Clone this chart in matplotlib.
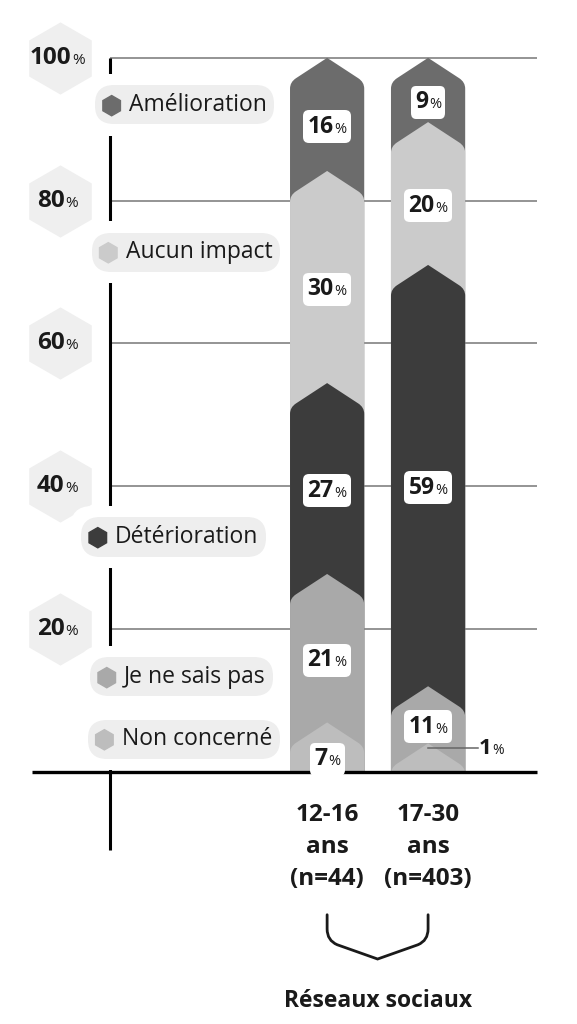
import numpy as np
import matplotlib.pyplot as plt
from matplotlib import font_manager as fm
from matplotlib.path import Path
from matplotlib.patches import PathPatch, RegularPolygon
from matplotlib.offsetbox import AnnotationBbox, HPacker, TextArea, DrawingArea

# pick a humanist sans that really has a bold face installed
def has_bold(fam):
    return any(f.name == fam and f.weight in (600, 700, 'bold', 'semibold') for f in fm.fontManager.ttflist)

family = next((f for f in ['Open Sans', 'Noto Sans', 'Lato', 'Roboto'] if has_bold(f)), 'DejaVu Sans')
plt.rcParams['font.family'] = [family, 'DejaVu Sans']

# data
groups = ['12-16\nans\n(n=44)', '17-30\nans\n(n=403)']
categories = ['Non concerné', 'Je ne sais pas', 'Détérioration', 'Aucun impact', 'Amélioration']
values = {
    'Non concerné':   [7, 1],
    'Je ne sais pas': [21, 11],
    'Détérioration':  [27, 59],
    'Aucun impact':   [30, 20],
    'Amélioration':   [16, 9],
}
colors = {
    'Non concerné':   '#bdbdbd',
    'Je ne sais pas': '#a9a9a9',
    'Détérioration':  '#3c3c3c',
    'Aucun impact':   '#cbcbcb',
    'Amélioration':   '#6c6c6c',
}
yticks = [20, 40, 60, 80, 100]
group_title = 'Réseaux sociaux'

# legend pill placement (layout, in axis units)
legend_xy = {'Amélioration': (-1.41, 93.4), 'Aucun impact': (-1.40, 72.8),
             'Détérioration': (-1.52, 32.9), 'Je ne sais pas': (-1.44, 13.3),
             'Non concerné': (-1.42, 4.6)}

fig = plt.figure(figsize=(5.77, 10.24), dpi=100)
ax = fig.add_axes([0, 0, 1, 1])
ax.set_xlim(-3.24, 2.475)
ax.set_ylim(-35.3, 108.1)
ax.axis('off')

x_axis = -2.15
x_right = 2.08
bar_w = 0.735
chev = 3.4
ink = '#1a1a1a'

# gridlines, axis, baseline
ax.hlines(yticks, x_axis, x_right, color='#777777', lw=1.1, zorder=1)
ax.vlines(x_axis, -10.9, 100, color='black', lw=2.2, zorder=1)
ax.hlines(0, -2.92, x_right, color='black', lw=2.4, zorder=6)


def pct_packer(num, size, psize):
    return HPacker(children=[TextArea(num, textprops=dict(size=size, weight='bold', color=ink)),
                             TextArea('%', textprops=dict(size=psize, color=ink))],
                   align='baseline', pad=0, sep=0.5)


# tick hexagons + labels
for t in yticks:
    ax.plot(-2.645, t, marker='h', ms=52, color='#efefef', mec='none', ls='none', zorder=2)
    ax.add_artist(AnnotationBbox(pct_packer(f'{t}', 17.5, 11), (-2.67, t), frameon=False, zorder=3))


def legend_box(cat):
    da = DrawingArea(13, 14, 0, 0)
    da.add_artist(RegularPolygon((6.5, 6.5), 6, radius=7.3, color=colors[cat]))
    return HPacker(children=[da, TextArea(cat, textprops=dict(size=16.5, color=ink))],
                   align='center', pad=3.5, sep=6)


# legend pills: white halo first (cuts the axis line), then the grey pill
for cat in categories:
    halo = AnnotationBbox(legend_box(cat), legend_xy[cat], frameon=True, fontsize=16, zorder=3.5,
                          pad=0, bboxprops=dict(boxstyle='round,pad=0.62,rounding_size=1.0',
                                                fc='white', ec='none'))
    halo.offsetbox.set_visible(False)
    ax.add_artist(halo)
    ax.add_artist(AnnotationBbox(legend_box(cat), legend_xy[cat], frameon=True, fontsize=16,
                                 zorder=4, pad=0,
                                 bboxprops=dict(boxstyle='round,pad=0.12,rounding_size=0.85',
                                                fc='#eeeeee', ec='none')))


def seg_path(xc, top):
    xl, xr = xc - bar_w / 2, xc + bar_w / 2
    sh = max(top - chev, 0.6)
    peak = sh + chev
    r = 0.9
    f = 0.16
    verts = [(xl, 0), (xr, 0), (xr, sh - r), (xr, sh), (xr - f * bar_w / 2, sh + f * chev),
             (xc, peak), (xl + f * bar_w / 2, sh + f * chev), (xl, sh), (xl, sh - r), (xl, 0)]
    codes = [Path.MOVETO, Path.LINETO, Path.LINETO, Path.CURVE3, Path.CURVE3,
             Path.LINETO, Path.LINETO, Path.CURVE3, Path.CURVE3, Path.CLOSEPOLY]
    return Path(verts, codes), sh, peak


# stacked chevron bars
for i in range(len(groups)):
    vals = np.array([values[c][i] for c in categories], dtype=float)
    cum = np.cumsum(vals) / vals.sum() * 100
    shapes = [seg_path(i, c)[1:] for c in cum]
    for j in reversed(range(len(categories))):
        p, sh, peak = seg_path(i, cum[j])
        ax.add_patch(PathPatch(p, fc=colors[categories[j]], ec='none', zorder=5 + 0.01 * (10 - j)))
    for j, cat in enumerate(categories):
        v = values[cat][i]
        lower = shapes[j - 1][1] if j > 0 else 0
        upper = shapes[j][0]
        if v < 3:
            # tiny slice: leader line + label outside the bar
            ax.plot([i, i + 0.49], [3.3, 3.3], color='#666666', lw=1.1, zorder=7)
            ax.add_artist(AnnotationBbox(pct_packer(f'{v}', 16, 10), (i + 0.5, 3.3),
                                         box_alignment=(0, 0.5), frameon=False, zorder=8))
            continue
        ax.add_artist(AnnotationBbox(pct_packer(f'{v}', 16.5, 10.5), (i, (lower + upper) / 2),
                                     frameon=True, fontsize=10, zorder=8, pad=0,
                                     bboxprops=dict(boxstyle='round,pad=0.32,rounding_size=0.4',
                                                    fc='white', ec='none')))

# group labels
for i, g in enumerate(groups):
    ax.text(i, -4.3, g, ha='center', va='top', fontsize=17.5, weight='bold',
            color=ink, linespacing=1.45)

# brace under both groups
x0, x1 = 0, len(groups) - 1
xm = (x0 + x1) / 2
verts = [(x0, -20.0), (x0, -22.0), (x0, -23.6), (x0 + 0.1, -24.2), (xm, -26.2),
         (x1 - 0.1, -24.2), (x1, -23.6), (x1, -22.0), (x1, -20.0)]
codes = [Path.MOVETO, Path.LINETO, Path.CURVE3, Path.CURVE3, Path.LINETO,
         Path.LINETO, Path.CURVE3, Path.CURVE3, Path.LINETO]
ax.add_patch(PathPatch(Path(verts, codes), fc='none', ec=ink, lw=2, capstyle='round'))
ax.text(xm, -32.1, group_title, ha='center', va='center', fontsize=16.5, weight='bold', color=ink)

fig.savefig('out.png', dpi=100)
